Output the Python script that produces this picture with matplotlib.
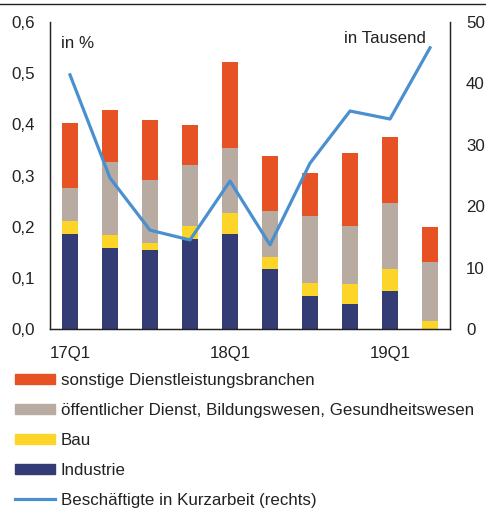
import matplotlib
matplotlib.use("Agg")
import matplotlib.pyplot as plt
from matplotlib.lines import Line2D
from matplotlib.patches import Patch
import numpy as np

quarters = ["17Q1", "17Q2", "17Q3", "17Q4", "18Q1", "18Q2", "18Q3", "18Q4", "19Q1", "19Q2"]
tick_labels = ["17Q1", "", "", "", "18Q1", "", "", "", "19Q1", ""]

industrie = [0.186, 0.158, 0.154, 0.176, 0.186, 0.118, 0.065, 0.049, 0.075, 0.0]
bau = [0.025, 0.026, 0.014, 0.025, 0.041, 0.022, 0.025, 0.038, 0.043, 0.016]
oeffentlich = [0.065, 0.142, 0.123, 0.119, 0.127, 0.090, 0.131, 0.114, 0.128, 0.115]
sonstige = [0.127, 0.102, 0.118, 0.079, 0.167, 0.108, 0.083, 0.143, 0.129, 0.068]
kurzarbeit = [41.4, 24.6, 16.1, 14.5, 24.1, 13.7, 27.0, 35.5, 34.2, 45.8]

c_sonst = "#E65224"
c_oeff = "#B8ABA1"
c_bau = "#FDD528"
c_ind = "#333C74"
c_line = "#4A90D0"

fs = 12.2
plt.rcParams["font.family"] = ["Liberation Sans", "DejaVu Sans"]
plt.rcParams["font.size"] = fs

fig = plt.figure(figsize=(4.86, 5.12), dpi=100)
ax = fig.add_axes([50 / 486, 1 - 329 / 512, 400 / 486, 307 / 512])
ax2 = ax.twinx()

x = np.arange(len(quarters))
w = 0.4
b1 = np.array(industrie)
b2 = b1 + np.array(bau)
b3 = b2 + np.array(oeffentlich)
ax.bar(x, industrie, w, color=c_ind)
ax.bar(x, bau, w, bottom=b1, color=c_bau)
ax.bar(x, oeffentlich, w, bottom=b2, color=c_oeff)
ax.bar(x, sonstige, w, bottom=b3, color=c_sonst)

ax2.plot(x, kurzarbeit, color=c_line, lw=2.3)

ax.set_xlim(-0.5, 9.5)
ax.set_ylim(0, 0.6)
ax2.set_ylim(0, 50)
ax.set_yticks(np.arange(0, 0.61, 0.1))
ax.set_yticklabels([f"{v:.1f}".replace(".", ",") for v in np.arange(0, 0.61, 0.1)])
ax2.set_yticks(range(0, 51, 10))
ax.set_xticks(x)
ax.set_xticklabels(tick_labels)

for a in (ax, ax2):
    a.tick_params(length=0, colors="#222222", labelsize=fs)
    a.spines["top"].set_visible(False)
    for s in ("left", "right", "bottom"):
        a.spines[s].set_color("#222222")
        a.spines[s].set_linewidth(0.9)
ax.tick_params(axis="y", pad=11)
ax.tick_params(axis="x", pad=12)
ax2.tick_params(axis="y", pad=11.5)

ax.text(0.028, 0.93, "in %", transform=ax.transAxes, fontsize=fs, color="#222222", va="center")
ax2.text(0.94, 0.945, "in Tausend", transform=ax.transAxes, fontsize=fs, color="#222222",
         va="center", ha="right")

fig.add_artist(Line2D([0, 1], [1 - 4 / 512, 1 - 4 / 512], color="#222222", lw=1))

handles = [
    Patch(color=c_sonst),
    Patch(color=c_oeff),
    Patch(color=c_bau),
    Patch(color=c_ind),
    Line2D([], [], color=c_line, lw=2.3),
]
labels = [
    "sonstige Dienstleistungsbranchen",
    "öffentlicher Dienst, Bildungswesen, Gesundheitswesen",
    "Bau",
    "Industrie",
    "Beschäftigte in Kurzarbeit (rechts)",
]
fig.legend(handles, labels, loc="upper left", bbox_to_anchor=(15 / 486, 1 - 373 / 512),
           frameon=False, fontsize=fs, handlelength=2.35, handleheight=0.55,
           handletextpad=0.35, labelspacing=0.88, borderaxespad=0, borderpad=0,
           labelcolor="#222222")

fig.savefig("out.png", dpi=100)
